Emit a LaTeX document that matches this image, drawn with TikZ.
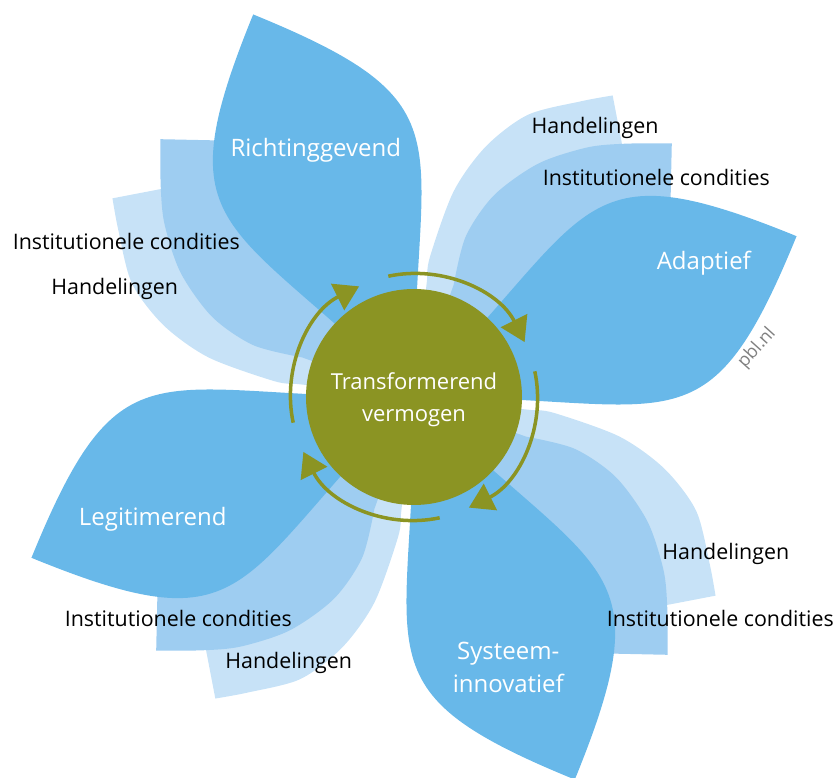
\documentclass[tikz,border=0pt]{standalone}
\usepackage{fontspec}
\setmainfont{Open Sans}
\usetikzlibrary{arrows.meta}

\definecolor{leafdark}{RGB}{104,184,233}
\definecolor{leafmid}{RGB}{158,205,241}
\definecolor{leaflight}{RGB}{199,226,247}
\definecolor{olive}{RGB}{139,148,35}

\tikzset{
  whitetext/.style={text=white, anchor=base, font=\fontsize{#1}{#1}\selectfont},
  ringtext/.style={text=black, anchor=base, font=\fontsize{21.4}{26}\selectfont},
  turn/.style={draw=olive, line width=3.5pt, -{Triangle[length=24pt,width=29pt]}}
}

\begin{document}
\begin{tikzpicture}[x=1pt,y=1pt]
\useasboundingbox (-414,-381) rectangle (424,397);

% four leaves, each with two layers behind it
\foreach \a in {22.8,112.8,202.8,292.8}{
  \begin{scope}[rotate=\a]
    \fill[leaflight] (0,0) -- plot[smooth] coordinates {(58,104) (69,123) (116,174) (163,203) (214,216) (268,208) (300,201)} -- (285,130) -- cycle;
    \fill[leafmid] (0,0) -- plot[smooth] coordinates {(80,88) (110,128) (152,155) (205,167) (256,163) (292,152) (336,134)} -- (303,60) -- cycle;
    \fill[leafdark] (0,0) .. controls (240,100) and (245,170) .. (415,0)
                          .. controls (245,-170) and (240,-100) .. (0,0);
  \end{scope}
}

\node[circle, fill=olive, inner sep=0pt, minimum size=216pt] (core) at (0,0) {};
\foreach \s in {102,12,-78,-168}
  \draw[turn] (\s:123.5) arc[start angle=\s, end angle=\s-75.6, radius=123.5];

\node[whitetext=22] (coretop) at (0,7) {Transformerend};
\node[whitetext=22] (corebottom) at (0,-24.7) {vermogen};

\node[whitetext=24] (richting) at (-98.2,240.3) {Richtinggevend};
\node[whitetext=24] (adapt) at (289.8,127.7) {Adaptief};
\node[whitetext=24] (legit) at (-261.2,-129) {Legitimerend};
\node[whitetext=24] (systeem) at (94.3,-262.3) {Systeem-};
\node[whitetext=24] (innov) at (94.3,-295.7) {innovatief};

\node[ringtext] (handA) at (181,263) {Handelingen};
\node[ringtext] (instA) at (242.3,211) {Institutionele condities};
\node[ringtext] (instR) at (-287.7,147.7) {Institutionele condities};
\node[ringtext] (handR) at (-299.3,102) {Handelingen};
\node[ringtext] (instL) at (-235.7,-229.7) {Institutionele condities};
\node[ringtext] (handL) at (-125.3,-271.3) {Handelingen};
\node[ringtext] (handS) at (311.8,-163) {Handelingen};
\node[ringtext] (instS) at (306.3,-229.7) {Institutionele condities};

\node[rotate=48, text=black!50, font=\fontsize{18}{18}\selectfont] (pbl) at (343,49) {pbl.nl};
\end{tikzpicture}
\end{document}
